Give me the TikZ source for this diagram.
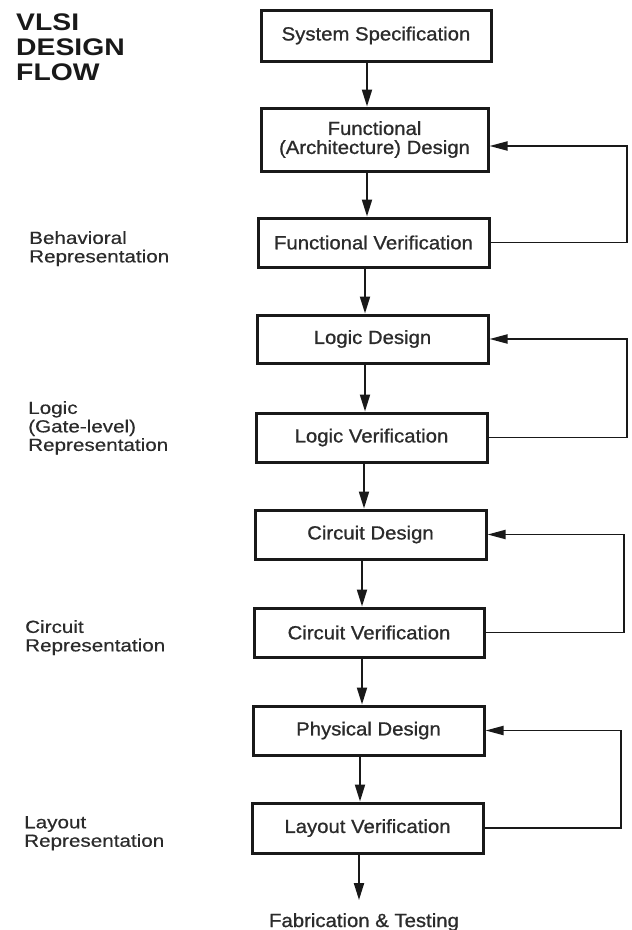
\documentclass[tikz,border=0pt]{standalone}
\usepackage{fontspec}
\setmainfont{Liberation Sans}
\newfontfamily\boxfont[FakeStretch=1.07,FakeBold=0.9]{Liberation Sans}
\newfontfamily\lblfont[FakeStretch=1.18,FakeBold=0.4]{Liberation Sans}
\newfontfamily\ttlfont[FakeStretch=1.18]{Liberation Sans}
\usetikzlibrary{arrows.meta}
\definecolor{ink}{gray}{0.1}
\definecolor{txt}{gray}{0.17}
\begin{document}
\begin{tikzpicture}[x=1pt,y=-1pt,
  stepbox/.style={draw=ink, line width=3pt, rectangle, inner sep=0pt,
    font=\boxfont\fontsize{19}{19}\selectfont, text=txt, align=center},
  flow/.style={draw=ink, line width=2pt, -{Triangle[length=17pt,width=10pt]}},
  fb/.style={draw=ink, line width=1.9pt, -{Triangle[length=18pt,width=9pt]}},
  side/.style={font=\lblfont\fontsize{17.5}{18.5}\selectfont, text=txt,
    align=left, anchor=north west, inner sep=0pt}]
\fill[white] (0,0) rectangle (632,930);
\useasboundingbox (0,0) rectangle (632,930);

% title
\node[anchor=north west, inner sep=0pt, align=left, text=ink,
  font=\ttlfont\bfseries\fontsize{24}{25}\selectfont] (ttl) at (16,14) {VLSI\\DESIGN\\FLOW};

% side labels
\node[side] (beh) at (29,231) {Behavioral\\Representation};
\node[side] (lgc) at (28,401) {Logic\\(Gate-level)\\Representation};
\node[side] (cir) at (25,620) {Circuit\\Representation};
\node[side] (lay) at (24,816) {Layout\\Representation};

% boxes
\node[stepbox, minimum width=230pt, minimum height=51pt] (ss)  at (376,35.5)  {System Specification};
\node[stepbox, minimum width=227pt, minimum height=63pt] (fad) at (374.5,139.5) {Functional\\(Architecture) Design};
\node[stepbox, minimum width=231pt, minimum height=49pt] (fv)  at (373.5,242.5) {Functional Verification};
\node[stepbox, minimum width=231pt, minimum height=48pt] (ld)  at (372.5,339)   {Logic Design};
\node[stepbox, minimum width=231pt, minimum height=49pt] (lv)  at (371.5,437.5) {Logic Verification};
\node[stepbox, minimum width=231pt, minimum height=49pt] (cd)  at (370.5,534.5) {Circuit Design};
\node[stepbox, minimum width=230pt, minimum height=49pt] (cv)  at (369,632.5)   {Circuit Verification};
\node[stepbox, minimum width=231pt, minimum height=49pt] (pd)  at (368.5,730.5) {Physical Design};
\node[stepbox, minimum width=231pt, minimum height=50pt] (lyv) at (367.5,828)   {Layout Verification};
\node[anchor=base, inner xsep=0pt, inner ysep=13pt, text=txt,
  font=\boxfont\fontsize{19}{19}\selectfont] (fab) at (364,927) {Fabrication \& Testing};

% downward flow
\draw[flow] ([xshift=-9pt]ss.south)   -- ([xshift=-9pt]ss.south |- fad.north);
\draw[flow] ([xshift=-7.5pt]fad.south) -- ([xshift=-7.5pt]fad.south |- fv.north);
\draw[flow] ([xshift=-8.5pt]fv.south) -- ([xshift=-8.5pt]fv.south |- ld.north);
\draw[flow] ([xshift=-7.5pt]ld.south) -- ([xshift=-7.5pt]ld.south |- lv.north);
\draw[flow] ([xshift=-7.5pt]lv.south) -- ([xshift=-7.5pt]lv.south |- cd.north);
\draw[flow] ([xshift=-8.5pt]cd.south) -- ([xshift=-8.5pt]cd.south |- cv.north);
\draw[flow] ([xshift=-7pt]cv.south)   -- ([xshift=-7pt]cv.south |- pd.north);
\draw[flow] ([xshift=-8.5pt]pd.south) -- ([xshift=-8.5pt]pd.south |- lyv.north);
\draw[flow] ([xshift=-8.5pt]lyv.south) -- ([xshift=-8.5pt]lyv.south |- fab.north);

% feedback loops
\coordinate (r1) at (627,0);
\coordinate (r2) at (627,0);
\coordinate (r3) at (624,0);
\coordinate (r4) at (621,0);
\coordinate (fadin) at ([yshift=-6.5pt]fad.east);
\draw[fb] (fv.east) -- (fv.east -| r1) -- (fadin -| r1) -- (fadin);
\draw[fb] (lv.east) -- (lv.east -| r2) -- (ld.east -| r2) -- (ld.east);
\draw[fb] (cv.east) -- (cv.east -| r3) -- (cd.east -| r3) -- (cd.east);
\draw[fb] (lyv.east) -- (lyv.east -| r4) -- (pd.east -| r4) -- (pd.east);
\end{tikzpicture}
\end{document}
